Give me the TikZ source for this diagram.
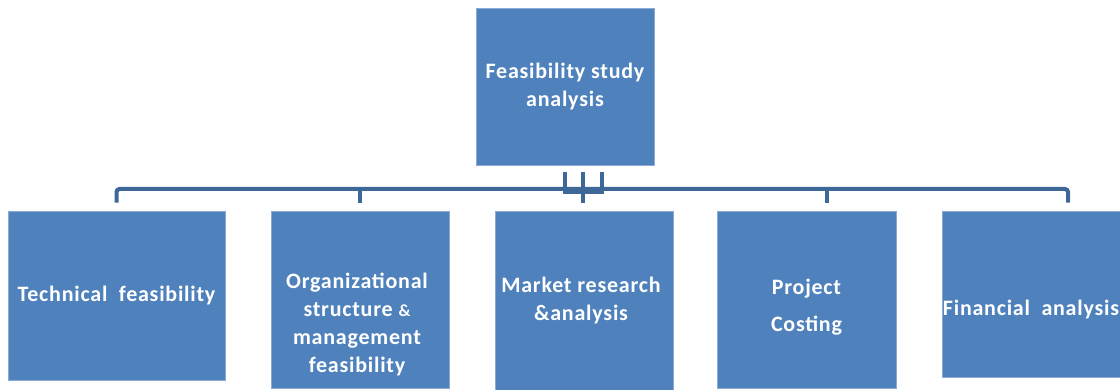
\documentclass[tikz,border=0pt]{standalone}
\usepackage{fontspec}
\setmainfont{Carlito}[LetterSpace=3.5]
\definecolor{boxblue}{RGB}{79,129,189}
\definecolor{boxedge}{RGB}{140,170,212}
\definecolor{linkblue}{RGB}{62,104,152}
\begin{document}
\begin{tikzpicture}[x=1pt,y=-1pt,
  box/.style={draw=boxedge, fill=boxblue, line width=0.8pt, inner sep=0pt},
  lbl/.style={text=white, align=center, inner sep=0pt,
    font=\bfseries\fontsize{22}{28}\selectfont},
  conn/.style={draw=linkblue, line width=4pt, rounded corners=3pt}]
% page frame
\useasboundingbox[fill=white] (0,0) rectangle (1120,390);

% boxes
\node[box, minimum width=178pt, minimum height=157pt] (top)    at (565,86.5)   {};
\node[box, minimum width=217pt, minimum height=169pt] (tech)   at (116.5,295.5) {};
\node[box, minimum width=178pt, minimum height=177pt] (org)    at (360,299.5)  {};
\node[box, minimum width=178pt, minimum height=180pt] (market) at (584,301)    {};
\node[box, minimum width=179pt, minimum height=177pt] (cost)   at (806.5,299.5) {};
\node[box, minimum width=178pt, minimum height=166pt] (fin)    at (1031,294)   {};

% labels
\node[lbl] (topT)    at (top.center)    {Feasibility study\\analysis};
\node[lbl] (techT)   at (tech.center)   {Technical\ \ feasibility};
\node[lbl, yshift=-24.5pt, xshift=-3pt] (orgT) at (org.center)
  {Organizational\\structure {\fontsize{17}{28}\selectfont\&}\\management\\feasibility};
\node[lbl, xshift=-3pt] (marketT) at (market.center) {Market research\\\&analysis};
\node[lbl, yshift=-8pt, font=\bfseries\fontsize{22}{37}\selectfont] (costT) at (cost.center) {Project\\Costing};
\node[lbl, yshift=-16pt] (finT) at (fin.center) {Financial\ \ analysis};

% drop points above each lower box
\coordinate (bus) at (0,189);
\coordinate (dT) at ([yshift=8pt]tech.north);
\coordinate (dO) at ([yshift=8pt]org.north);
\coordinate (dM) at ([xshift=-1pt,yshift=8pt]market.north);
\coordinate (dC) at ([xshift=20.5pt,yshift=8pt]cost.north);
\coordinate (dF) at ([xshift=37pt,yshift=8pt]fin.north);

% horizontal bus with its end drops
\draw[conn] (dT) -- (dT |- bus) -- (dF |- bus) -- (dF);
\draw[conn] (dO) -- (dO |- bus);
\draw[conn] (dC) -- (dC |- bus);

% triple stem under the top box
\coordinate (s1) at ([yshift=-7pt]top.south);
\coordinate (s2) at ([xshift=18pt,yshift=-7pt]top.south);
\coordinate (s3) at ([xshift=37pt,yshift=-7pt]top.south);
\draw[conn, rounded corners=0pt] (s1) -- ++(0,20) -- ++(37,0) -- (s3);
\draw[conn, rounded corners=0pt] (s2) -- (dM);
\end{tikzpicture}
\end{document}
